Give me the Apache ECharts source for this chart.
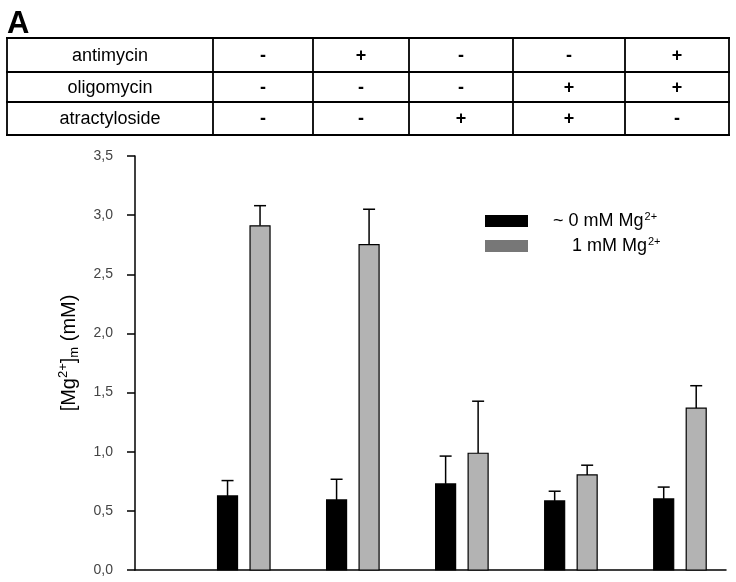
<!DOCTYPE html>
<html><head><meta charset="utf-8">
<script src="https://cdn.jsdelivr.net/npm/echarts@6/dist/echarts.min.js"></script>
<style>html,body{margin:0;padding:0;background:#fff}#c{width:736px;height:582px}</style>
</head><body><div id="c"></div>
<script>
// ---- data ----
const groupPos = [1, 2, 3, 4, 5];
const mg0Mean = [0.626, 0.592, 0.728, 0.584, 0.601];
const mg0Sd   = [0.13, 0.175, 0.235, 0.082, 0.10];
const mg1Mean = [2.91, 2.75, 0.987, 0.804, 1.368];
const mg1Sd   = [0.17, 0.30, 0.44, 0.082, 0.19];
const yTicks = [0, 0.5, 1.0, 1.5, 2.0, 2.5, 3.0, 3.5];
const treatments = ['antimycin', 'oligomycin', 'atractyloside'];
const antimycinSigns    = ['-', '+', '-', '-', '+'];
const oligomycinSigns   = ['-', '-', '-', '+', '+'];
const atractylosideSigns= ['-', '-', '+', '+', '-'];
const legendNames = ['~ 0 mM Mg', '1 mM Mg'];

// ---- layout/styles ----
const FONT = 'Arial, "Liberation Sans", sans-serif';
const tableX = [7, 213, 313, 409, 513, 625, 729];
const tableY = [38, 72, 102, 135];
const signRows = [antimycinSigns, oligomycinSigns, atractylosideSigns];

const graphic = [];
graphic.push({type:'text', left:7, top:9, style:{text:'A', font:'bold 31px ' + FONT, fill:'#000'}});
tableY.forEach(y => graphic.push({type:'line', shape:{x1:tableX[0]-1, y1:y, x2:tableX[tableX.length-1]+1, y2:y}, style:{stroke:'#000', lineWidth:1.8}}));
tableX.forEach(x => graphic.push({type:'line', shape:{x1:x, y1:tableY[0], x2:x, y2:tableY[tableY.length-1]}, style:{stroke:'#000', lineWidth:1.8}}));
treatments.forEach((t, r) => {
  const cy = (tableY[r] + tableY[r+1]) / 2 + 1;
  graphic.push({type:'text', x:(tableX[0]+tableX[1])/2, y:cy, style:{text:t, font:'18px ' + FONT, fill:'#000', align:'center', verticalAlign:'middle'}});
  signRows[r].forEach((s, c) => {
    const cx = (tableX[c+1] + tableX[c+2]) / 2;
    graphic.push({type:'text', x:cx, y:cy, style:{text:s, font:'bold 18px ' + FONT, fill:'#000', align:'center', verticalAlign:'middle'}});
  });
});
// legend
const legendColors = ['#000000', '#777777'];
const legendY = [221, 246];
const legendTextX = [553, 572];
legendNames.forEach((n, i) => {
  graphic.push({type:'rect', shape:{x:485, y:legendY[i]-6, width:43, height:12}, style:{fill:legendColors[i]}});
  graphic.push({type:'text', x:legendTextX[i], y:legendY[i], style:{
    text:n + '{s|2+}', font:'18px ' + FONT, fill:'#000', verticalAlign:'middle',
    rich:{s:{fontSize:11, fontFamily:FONT, verticalAlign:'top', padding:[0,0,9,1], fill:'#000'}}
  }});
});
// y-axis title
graphic.push({type:'text', x:69, y:353, rotation:Math.PI/2, style:{
  text:'[Mg{sup|2+}]{sub|m} (mM)', font:'20px ' + FONT, fill:'#000', align:'center', verticalAlign:'middle',
  rich:{sup:{fontSize:13, fontFamily:FONT, verticalAlign:'top', padding:[0,0,11,0], fill:'#000'},
        sub:{fontSize:13, fontFamily:FONT, verticalAlign:'bottom', padding:[8,0,0,0], fill:'#000'}}
}});

function barSeries(means, sds, offset, fill) {
  return {
    type:'custom',
    coordinateSystem:'cartesian2d',
    data: groupPos.map((g, i) => [g, means[i], sds[i]]),
    encode:{x:0, y:1},
    renderItem: function(params, api) {
      const x = api.value(0), v = api.value(1), sd = api.value(2);
      const base = api.coord([x, 0]);
      const top = api.coord([x, v]);
      const et = api.coord([x, v + sd]);
      const cx = base[0] + offset;
      const w = 20, cap = 12;
      return {type:'group', children:[
        {type:'line', shape:{x1:cx, y1:top[1], x2:cx, y2:et[1]}, style:{stroke:'#000', lineWidth:1.5}},
        {type:'line', shape:{x1:cx-cap/2, y1:et[1], x2:cx+cap/2, y2:et[1]}, style:{stroke:'#000', lineWidth:1.5}},
        {type:'rect', shape:{x:cx-w/2, y:top[1], width:w, height:base[1]-top[1]}, style:{fill:fill, stroke:'#000', lineWidth:1.2}}
      ]};
    }
  };
}

const chart = echarts.init(document.getElementById('c'), null, {renderer:'canvas'});
chart.setOption({
  animation:false,
  backgroundColor:'#fff',
  grid:{left:135, right:10, top:156, bottom:12, containLabel:false},
  xAxis:{type:'value', min:0, max:5.42, axisLine:{lineStyle:{color:'#000', width:1.5}}, axisTick:{show:false}, axisLabel:{show:false}, splitLine:{show:false}},
  yAxis:{type:'value', min:yTicks[0], max:yTicks[yTicks.length-1], interval:0.5,
    axisLine:{show:true, lineStyle:{color:'#000', width:1.5}},
    axisTick:{show:true, length:8, lineStyle:{color:'#000', width:1.5}},
    axisLabel:{margin:22, fontSize:14, fontFamily:FONT, color:'#444', formatter: v => v.toFixed(1).replace('.', ',')},
    splitLine:{show:false}
  },
  series:[barSeries(mg0Mean, mg0Sd, -16.5, '#000000'), barSeries(mg1Mean, mg1Sd, 16, '#b3b3b3')],
  graphic: graphic
});
</script></body></html>
